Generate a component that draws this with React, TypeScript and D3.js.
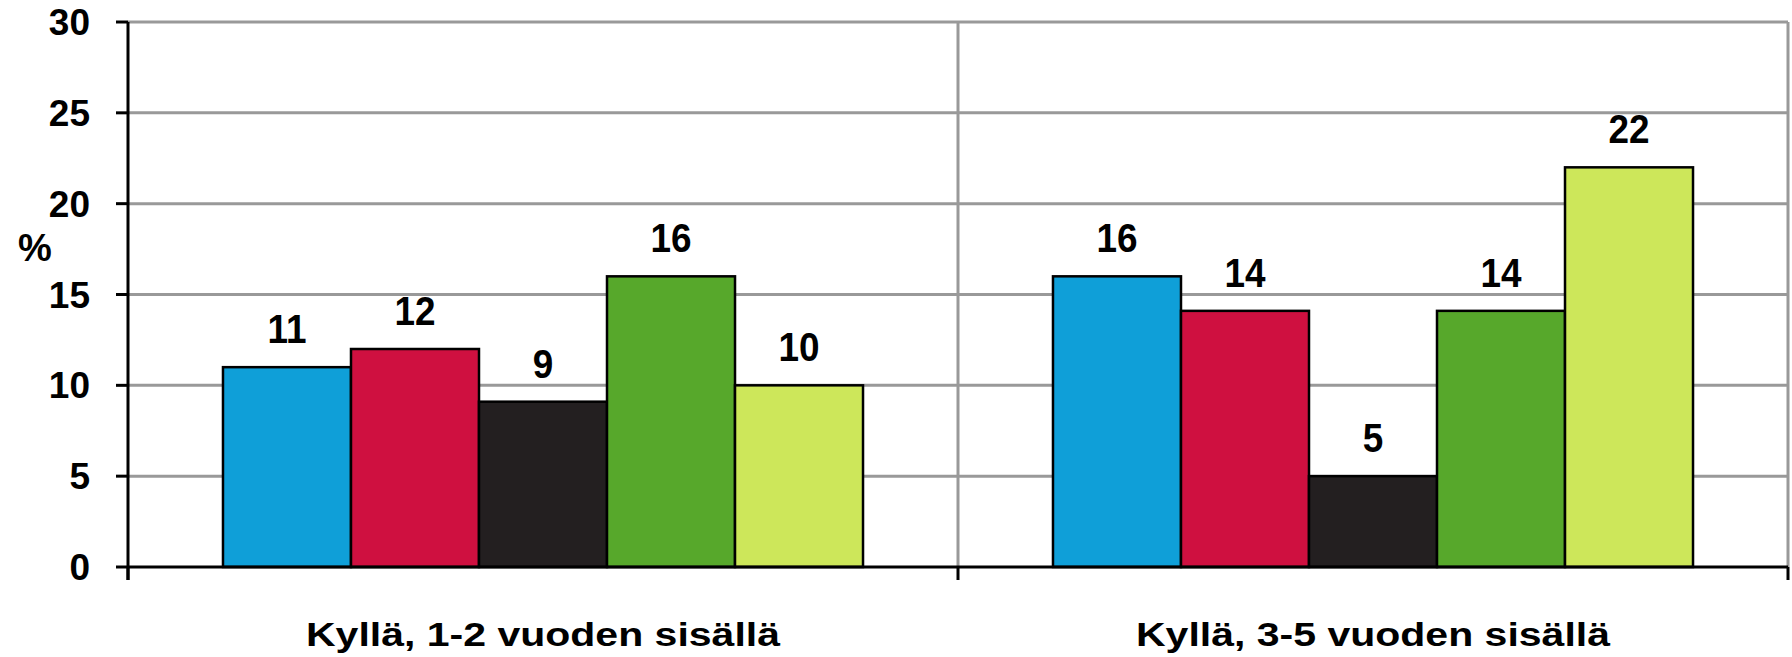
import React from 'react';
import * as d3 from 'd3';

const categories = ['Kyllä, 1-2 vuoden sisällä', 'Kyllä, 3-5 vuoden sisällä'];
const seriesNames = ['s1', 's2', 's3', 's4', 's5'];
const seriesColors = ['#0f9fd8', '#cf1040', '#231f20', '#57a82b', '#cde75a'];
const values = [
  [11, 12, 9.1, 16, 10],
  [16, 14.1, 5, 14.1, 22],
];
const labels = [
  ['11', '12', '9', '16', '10'],
  ['16', '14', '5', '14', '22'],
];
const yTicks = [0, 5, 10, 15, 20, 25, 30];

const W = 1792;
const H = 657;
const FONT = '"Liberation Sans", Arial, sans-serif';

const App = () => {
  const left = 128;
  const right = 1788;
  const top = 22;
  const bottom = 567;

  const y = d3.scaleLinear().domain([0, 30]).range([bottom, top]);
  const x0 = d3.scaleBand<string>().domain(categories).range([left, right]).padding(0);
  const x1 = d3
    .scaleBand<string>()
    .domain(seriesNames)
    .range([0, x0.bandwidth()])
    .paddingInner(0)
    .paddingOuter(0.742);

  const xTickPositions = [left, ...categories.map(c => (x0(c) as number) + x0.bandwidth())];

  return (
    <svg
      width={W}
      height={H}
      style={{ position: 'absolute', left: 0, top: 0, background: '#fff' }}
      fontFamily={FONT}
      fontWeight="bold"
    >
      {/* horizontal grid */}
      {yTicks.filter(t => t > 0).map(t => (
        <line key={'g' + t} x1={left} x2={right} y1={y(t)} y2={y(t)} stroke="#999" strokeWidth={3} />
      ))}
      {/* vertical grid at category boundaries */}
      {xTickPositions.slice(1).map((p, i) => (
        <line key={'v' + i} x1={p} x2={p} y1={top} y2={bottom} stroke="#999" strokeWidth={3} />
      ))}

      {/* bars */}
      {categories.map((c, ci) =>
        seriesNames.map((s, si) => (
          <rect
            key={c + s}
            x={(x0(c) as number) + (x1(s) as number)}
            y={y(values[ci][si])}
            width={x1.bandwidth()}
            height={y(0) - y(values[ci][si])}
            fill={seriesColors[si]}
            stroke="#000"
            strokeWidth={2.5}
          />
        ))
      )}

      {/* data labels */}
      {categories.map((c, ci) =>
        seriesNames.map((s, si) => {
          const cx = (x0(c) as number) + (x1(s) as number) + x1.bandwidth() / 2;
          const cy = y(values[ci][si]) - 24;
          return (
            <text
              key={'l' + c + s}
              transform={`translate(${cx},${cy}) scale(0.9,1)`}
              textAnchor="middle"
              fontSize={41}
              fill="#000"
            >
              {labels[ci][si]}
            </text>
          );
        })
      )}

      {/* y axis */}
      <line x1={left} x2={left} y1={top} y2={bottom + 13} stroke="#000" strokeWidth={3} />
      {yTicks.map(t => (
        <g key={'t' + t}>
          <line x1={left - 12} x2={left} y1={y(t)} y2={y(t)} stroke="#000" strokeWidth={3} />
          <text x={90} y={y(t) + 13} textAnchor="end" fontSize={37} fill="#000">
            {t}
          </text>
        </g>
      ))}
      <text x={35} y={261} textAnchor="middle" fontSize={38} fill="#000">
        %
      </text>

      {/* x axis */}
      <line x1={left} x2={right} y1={bottom} y2={bottom} stroke="#000" strokeWidth={3} />
      {xTickPositions.map((p, i) => (
        <line key={'xt' + i} x1={p} x2={p} y1={bottom} y2={bottom + 13} stroke="#000" strokeWidth={3} />
      ))}
      {categories.map(c => (
        <text
          key={'c' + c}
          x={(x0(c) as number) + x0.bandwidth() / 2}
          y={646}
          textAnchor="middle"
          fontSize={34}
          fill="#000"
          textLength={474}
          lengthAdjust="spacingAndGlyphs"
        >
          {c}
        </text>
      ))}
    </svg>
  );
};

export default App;
